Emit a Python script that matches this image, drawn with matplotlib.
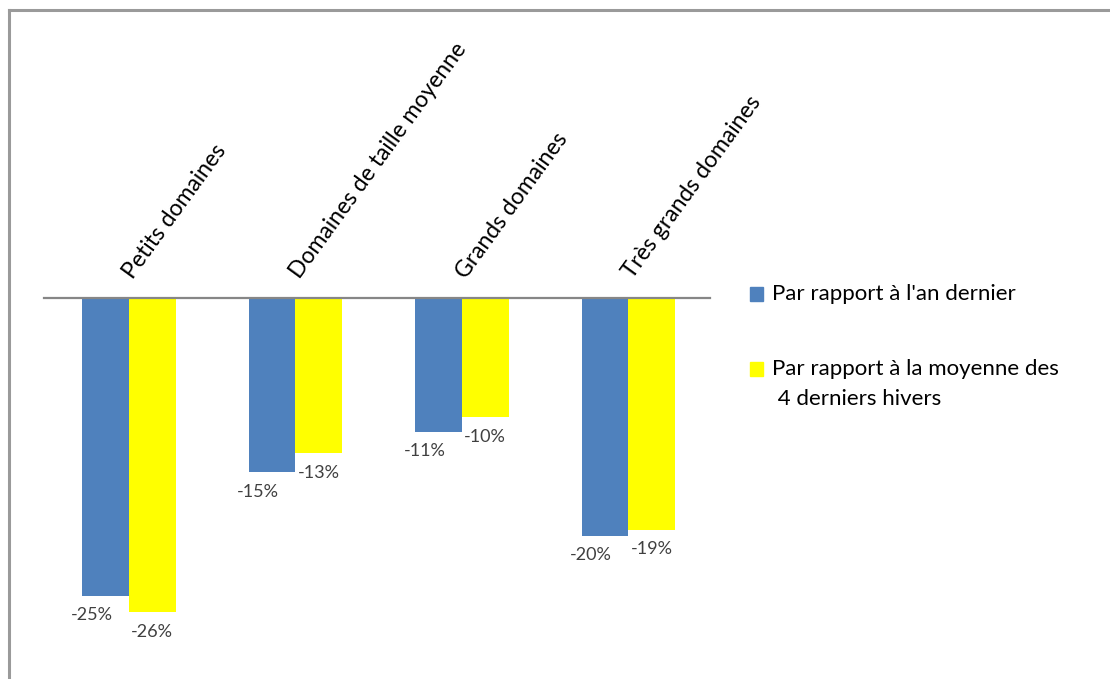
import matplotlib
matplotlib.use('Agg')
import matplotlib.pyplot as plt
from matplotlib.lines import Line2D
from matplotlib.patches import Rectangle
import numpy as np

categories = ['Petits domaines', 'Domaines de taille moyenne', 'Grands domaines', 'Très grands domaines']
series_names = ["Par rapport à l'an dernier", 'Par rapport à la moyenne des\n 4 derniers hivers']
vs_last_year = [-24.9, -14.6, -11.2, -19.9]
vs_4_winters = [-26.3, -13.0, -10.0, -19.4]

blue = '#4F81BD'
yellow = '#FFFF00'

plt.rcParams['font.family'] = ['Lato', 'DejaVu Sans']

W, H = 1110, 679
fig = plt.figure(figsize=(W / 100, H / 100), dpi=100)

# plot area in pixel terms: zero line at y=298, categories 166.5 px apart
ax = fig.add_axes([44 / W, 1 - 650 / H, 666 / W, (650 - 298) / H])
x = np.arange(len(categories))
bw = 0.28
b1 = ax.bar(x - bw / 2, vs_last_year, bw, color=blue, edgecolor='none')
b2 = ax.bar(x + bw / 2, vs_4_winters, bw, color=yellow, edgecolor='none')
ax.set_xlim(-0.51, 3.49)
ax.set_ylim(-29.46, 0)
ax.axhline(0, color='#868686', lw=1.6, clip_on=False, zorder=3)
for s in ax.spines.values():
    s.set_visible(False)
ax.set_xticks([])
ax.set_yticks([])

# category names above the zero line
for i, name in enumerate(categories):
    ax.annotate(name, xy=(i, 0), xytext=(3, 13), textcoords='offset points',
                rotation=54, rotation_mode='anchor', ha='left', va='baseline',
                fontsize=16.5, color='black', annotation_clip=False)

# value labels under the bars
for bars, vals, dx in [(b1, vs_last_year, -10), (b2, vs_4_winters, 0)]:
    for rect, v in zip(bars, vals):
        ax.annotate('%d%%' % round(v), xy=(rect.get_x() + rect.get_width() / 2, v),
                    xytext=(dx, -14), textcoords='offset points',
                    ha='center', va='center', fontsize=13, color='#404040',
                    annotation_clip=False)

# legend drawn by hand so the marker sits on the first line
leg_y = [294, 369]
for name, col, yy in zip(series_names, [blue, yellow], leg_y):
    fig.add_artist(Rectangle((750 / W, 1 - (yy + 7) / H), 13 / W, 14 / H,
                             transform=fig.transFigure, color=col))
    for k, line in enumerate(name.split('\n')):
        fig.text(772 / W, 1 - (yy + 30 * k) / H, line, ha='left', va='center',
                 fontsize=16, color='black')

# outer frame (cut at right and bottom)
fig.add_artist(Line2D([9 / W, 9 / W], [0, 1 - 10 / H], transform=fig.transFigure,
                      color='#9a9a9a', lw=2.2))
fig.add_artist(Line2D([9 / W, 1], [1 - 10 / H, 1 - 10 / H], transform=fig.transFigure,
                      color='#9a9a9a', lw=2.2))

fig.savefig('out.png', dpi=100)
